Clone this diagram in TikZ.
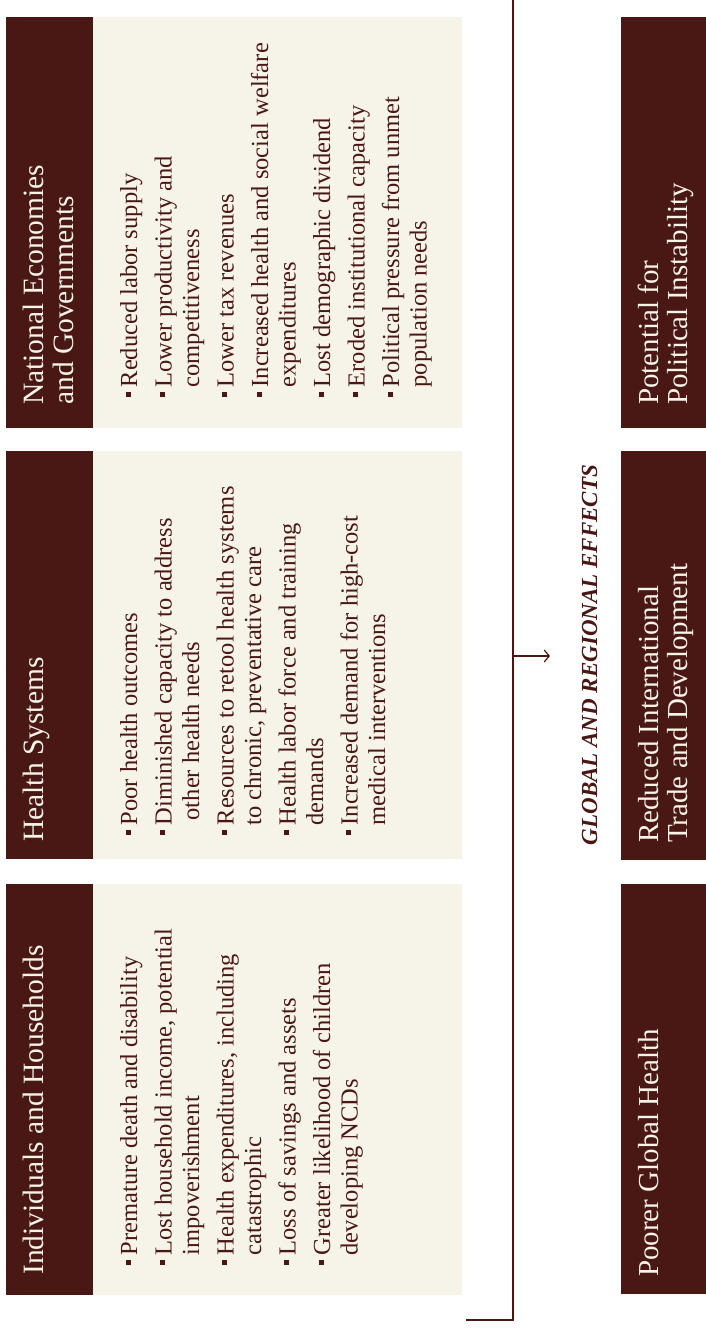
\documentclass[tikz,border=0pt]{standalone}
\usepackage{fontspec}
\setmainfont{Liberation Serif}
\usetikzlibrary{arrows.meta}
\definecolor{brn}{RGB}{74,24,20}
\definecolor{crm}{RGB}{246,243,232}
\newcommand{\bsq}{\makebox[10pt][l]{\rule[6.5pt]{5pt}{5pt}}}
\newcommand{\bitem}[1]{\par\hangindent=10pt\hangafter=1\noindent\bsq#1}
\newcommand{\blist}[1]{\fontsize{24.5}{27.5}\selectfont\parbox[t]{380pt}{\raggedright\parskip=7pt\relax#1}}
\newcommand{\htext}[1]{\fontsize{29.5}{30}\selectfont\parbox[t]{380pt}{\raggedright#1}}
\newcommand{\rtext}[1]{\fontsize{29}{29}\selectfont\parbox[t]{380pt}{\raggedright#1}}
\tikzset{
  hdrbox/.style={fill=brn, draw=none, inner sep=0pt, anchor=north west, minimum width=87pt},
  bodybox/.style={fill=crm, draw=none, inner sep=0pt, anchor=north west, minimum width=369pt},
  outbox/.style={fill=brn, draw=none, inner sep=0pt, anchor=north west, minimum width=85pt},
  rtxt/.style={rotate=90, anchor=base west, inner sep=0pt},
  lighttxt/.style={rtxt, text=crm},
  darktxt/.style={rtxt, text=brn},
  conn/.style={draw=brn, line width=1.6pt},
}
\begin{document}
\begin{tikzpicture}[x=1pt, y=-1pt]
\useasboundingbox (0,0) rectangle (706,1330);
\fill[white] (0,0) rectangle (706,1330);

% panel boxes
\node[hdrbox, minimum height=411pt] (hb3) at (6,17) {};
\node[bodybox, minimum height=411pt] (bb3) at (93,17) {};
\node[hdrbox, minimum height=408pt] (hb2) at (6,451) {};
\node[bodybox, minimum height=408pt] (bb2) at (93,451) {};
\node[hdrbox, minimum height=411pt] (hb1) at (6,884) {};
\node[bodybox, minimum height=411pt] (bb1) at (93,884) {};

% outcome boxes
\node[outbox, minimum height=411pt] (ob3) at (621,17) {};
\node[outbox, minimum height=409pt] (ob2) at (621,451) {};
\node[outbox, minimum height=410pt] (ob1) at (621,884) {};

% header texts
\node[lighttxt] (ht1) at (43,1275) {\htext{Individuals and Households}};
\node[lighttxt] (ht2) at (43,842) {\htext{Health Systems}};
\node[lighttxt] (ht3) at (43,405) {\htext{National Economies\newline and Governments}};

% bullet lists
\node[darktxt] (bl1) at (137,1265.5) {\blist{%
\bitem{Premature death and disability}
\bitem{Lost household income, potential\newline impoverishment}
\bitem{Health expenditures, including\newline catastrophic}
\bitem{Loss of savings and assets}
\bitem{Greater likelihood of children\newline developing NCDs}}};

\node[darktxt] (bl2) at (137,835.5) {\blist{%
\bitem{Poor health outcomes}
\bitem{Diminished capacity to address\newline \hspace*{5pt}other health needs}
\bitem{Resources to retool health systems\newline to chronic, preventative care}
\bitem{Health labor force and training\newline demands}
\bitem{Increased demand for high-cost\newline medical interventions}}};

\node[darktxt] (bl3) at (137,397.5) {\blist{%
\bitem{Reduced labor supply}
\bitem{Lower productivity and\newline competitiveness}
\bitem{Lower tax revenues}
\bitem{Increased health and social welfare\newline expenditures}
\bitem{Lost demographic dividend}
\bitem{Eroded institutional capacity}
\bitem{Political pressure from unmet\newline population needs}}};

% outcome texts
\node[lighttxt] (ot1) at (658,1277) {\rtext{Poorer Global Health}};
\node[lighttxt] (ot2) at (658,843) {\rtext{Reduced International\newline Trade and Development}};
\node[lighttxt] (ot3) at (658,405) {\rtext{Potential for\newline Political Instability}};

% global label
\node[rotate=90, anchor=base, inner sep=0pt, text=brn, font=\fontsize{23}{26}\selectfont\bfseries\itshape] (glob) at (597,655) {GLOBAL AND REGIONAL EFFECTS};

% bracket and arrow
\coordinate (top) at (513,0);
\coordinate (corner) at (513,1320);
\coordinate (foot) at (466,1320);
\coordinate (mid) at (513,656);
\coordinate (tip) at (550,656);
\draw[conn] (top) -- (corner) -- (foot);
\draw[draw=brn, line width=1.2pt, -{Straight Barb[length=5pt,width=12pt,line width=1.2pt]}] (mid) -- (tip);
\end{tikzpicture}
\end{document}
